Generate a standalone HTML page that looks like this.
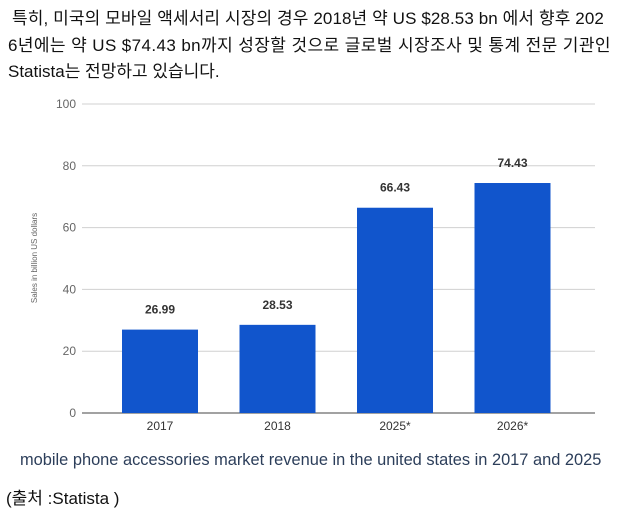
<!DOCTYPE html>
<html><head><meta charset="utf-8"><style>
body{margin:0;width:622px;height:507px;background:#fff;overflow:hidden;position:relative;font-family:"Liberation Sans","Noto Sans CJK KR",sans-serif;}
.t{position:absolute;left:8px;font-size:17px;color:#111;white-space:nowrap;}
</style></head><body>
<div class="t" style="top:4px;left:12px;letter-spacing:0.1px">특히, 미국의 모바일 액세서리 시장의 경우 2018년 약 US $28.53 bn 에서 향후 202</div>
<div class="t" style="top:31px;letter-spacing:0.4px">6년에는 약 US $74.43 bn까지 성장할 것으로 글로벌 시장조사 및 통계 전문 기관인</div>
<div class="t" style="top:57px">Statista는 전망하고 있습니다.</div>
<svg id="chart" width="622" height="507" style="position:absolute;left:0;top:0" font-family="Liberation Sans, sans-serif"></svg>
<div class="t" style="top:451px;left:20px;color:#2c3e5a;font-size:16.4px">mobile phone accessories market revenue in the united states in 2017 and 2025</div>
<div class="t" style="top:484px;left:6px;font-size:17px">(출처 :Statista )</div>
<script>
const categories=["2017","2018","2025*","2026*"];
const values=[26.99,28.53,66.43,74.43];
const valueLabels=["26.99","28.53","66.43","74.43"];
const yTicks=[0,20,40,60,80,100];
const svg=document.getElementById('chart');
const NS='http://www.w3.org/2000/svg';
const x0=82,x1=595,yTop=104,yBot=413;
const y=v=>yBot-(v/100)*(yBot-yTop);
const band=117.5;
const xc=i=>x0+19.25+band*(i+0.5);
function mk(t,a){const e=document.createElementNS(NS,t);for(const k in a)e.setAttribute(k,a[k]);svg.appendChild(e);return e;}
yTicks.forEach(v=>{
 const l=mk('line',{x1:x0,x2:x1,y1:y(v),y2:y(v),stroke:v===0?'#444':'#d0d0d0','stroke-width':1});
 
 
 const t=mk('text',{x:76,y:y(v)+4,'text-anchor':'end','font-size':12,fill:'#666'});t.textContent=v;
 
 
});
const yt=mk('text',{transform:'translate(37,258) rotate(-90)','text-anchor':'middle','font-size':8,fill:'#666'});yt.textContent='Sales in billion US dollars';


categories.forEach((c,i)=>{
 const r=mk('rect',{x:xc(i)-38,y:y(values[i]),width:76,height:yBot-y(values[i]),fill:'#1155cc'});
 
 
 const vl=mk('text',{x:xc(i),y:y(values[i])-16,'text-anchor':'middle','font-size':12,'font-weight':'bold',fill:'#333'});vl.textContent=valueLabels[i];
 
 
 const xl=mk('text',{x:xc(i),y:430,'text-anchor':'middle','font-size':12,fill:'#333'});xl.textContent=c;
 
 
});
</script>
</body></html>
